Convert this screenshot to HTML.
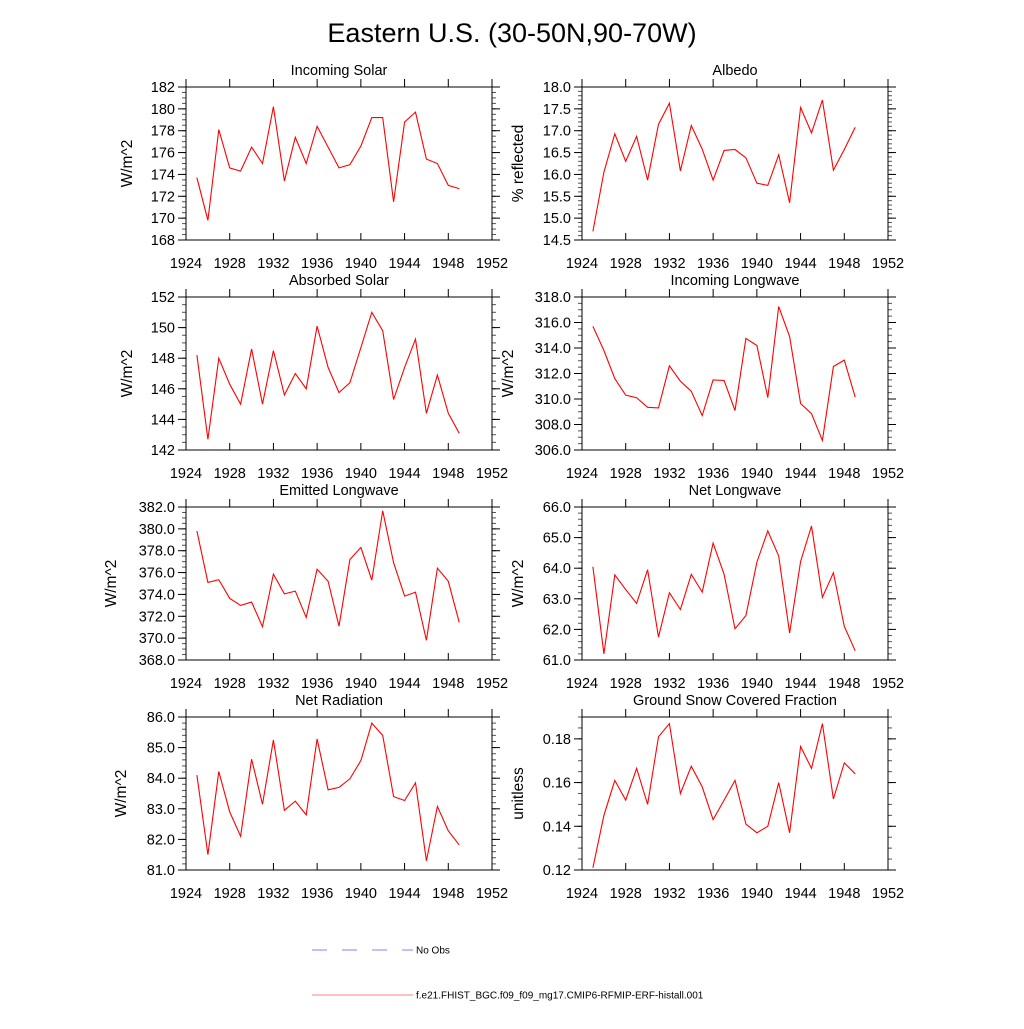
<!DOCTYPE html>
<html><head><meta charset="utf-8"><style>
body{margin:0;background:#fff}
svg text{font-family:"Liberation Sans",sans-serif;fill:#000}
</style></head><body>
<svg id="fig" width="1024" height="1024" viewBox="0 0 1024 1024" xmlns="http://www.w3.org/2000/svg">
<rect width="1024" height="1024" fill="#fff"/>
<text x="512" y="42" font-size="27" text-anchor="middle">Eastern U.S. (30-50N,90-70W)</text>
<g id="panels"></g>
<g>
<line x1="312" y1="950" x2="413" y2="950" stroke="#8080ff" stroke-width="1" stroke-dasharray="15,15"/>
<text x="416" y="953.5" font-size="10">No Obs</text>
<line x1="312" y1="995" x2="413" y2="995" stroke="#ff8080" stroke-width="1"/>
<text x="416" y="998.5" font-size="10">f.e21.FHIST_BGC.f09_f09_mg17.CMIP6-RFMIP-ERF-histall.001</text>
</g>
</svg>
<script>
const years = [1925,1926,1927,1928,1929,1930,1931,1932,1933,1934,1935,1936,1937,1938,1939,1940,1941,1942,1943,1944,1945,1946,1947,1948,1949];
const xTicks = [1924,1928,1932,1936,1940,1944,1948,1952];
const incomingSolar = [173.7,169.8,178.1,174.6,174.3,176.5,175.0,180.2,173.4,177.4,175.0,178.4,176.5,174.6,174.9,176.6,179.2,179.2,171.5,178.8,179.7,175.4,175.0,173.0,172.7];
const albedo = [14.7,16.05,16.93,16.3,16.87,15.87,17.15,17.63,16.08,17.12,16.58,15.87,16.55,16.57,16.38,15.8,15.75,16.45,15.35,17.53,16.95,17.7,16.1,16.57,17.08];
const absorbedSolar = [148.2,142.7,148.0,146.3,145.0,148.6,145.0,148.5,145.6,147.0,146.0,150.1,147.4,145.75,146.4,148.7,151.0,149.8,145.3,147.4,149.25,144.4,146.9,144.4,143.1];
const incomingLW = [315.7,313.8,311.6,310.3,310.1,309.35,309.3,312.6,311.4,310.6,308.7,311.5,311.45,309.1,314.75,314.2,310.1,317.25,314.9,309.65,308.85,306.75,312.55,313.05,310.15];
const emittedLW = [379.8,375.1,375.35,373.65,373.0,373.3,371.05,375.85,374.05,374.3,371.9,376.3,375.2,371.1,377.2,378.3,375.3,381.65,376.9,373.85,374.2,369.8,376.4,375.2,371.45];
const netLW = [64.05,61.2,63.78,63.3,62.85,63.95,61.75,63.2,62.65,63.8,63.22,64.82,63.8,62.02,62.45,64.2,65.22,64.4,61.88,64.22,65.38,63.05,63.85,62.1,61.3];
const netRad = [84.1,81.5,84.22,82.9,82.1,84.62,83.15,85.25,82.95,83.25,82.8,85.28,83.62,83.7,83.98,84.58,85.8,85.4,83.4,83.27,83.85,81.3,83.08,82.28,81.82];
const snowFrac = [0.121,0.145,0.161,0.152,0.1665,0.150,0.181,0.187,0.155,0.1675,0.158,0.143,0.152,0.161,0.141,0.137,0.140,0.160,0.137,0.1765,0.1665,0.187,0.1525,0.169,0.164];
const isTicks = [168,170,172,174,176,178,180,182];
const alTicks = [14.5,15.0,15.5,16.0,16.5,17.0,17.5,18.0];
const asTicks = [142,144,146,148,150,152];
const ilTicks = [306,308,310,312,314,316,318];
const elTicks = [368,370,372,374,376,378,380,382];
const nlTicks = [61,62,63,64,65,66];
const nrTicks = [81,82,83,84,85,86];
const snTicks = [0.12,0.14,0.16,0.18];

const NS="http://www.w3.org/2000/svg";
const root=document.getElementById('panels');
function mk(tag,attrs,parent){const e=document.createElementNS(NS,tag);for(const k in attrs)e.setAttribute(k,attrs[k]);parent.appendChild(e);return e;}

const panels=[
 {name:'incoming-solar',title:'Incoming Solar',ylab:'W/m^2',data:incomingSolar,ticks:isTicks,ymin:168,ymax:182,dec:0,minor:4,col:0,row:0,labx:127},
 {name:'albedo',title:'Albedo',ylab:'% reflected',data:albedo,ticks:alTicks,ymin:14.5,ymax:18.0,dec:1,minor:5,col:1,row:0,labx:518},
 {name:'absorbed-solar',title:'Absorbed Solar',ylab:'W/m^2',data:absorbedSolar,ticks:asTicks,ymin:142,ymax:152,dec:0,minor:4,col:0,row:1,labx:127},
 {name:'incoming-longwave',title:'Incoming Longwave',ylab:'W/m^2',data:incomingLW,ticks:ilTicks,ymin:306,ymax:318,dec:1,minor:4,col:1,row:1,labx:508},
 {name:'emitted-longwave',title:'Emitted Longwave',ylab:'W/m^2',data:emittedLW,ticks:elTicks,ymin:368,ymax:382,dec:1,minor:4,col:0,row:2,labx:111},
 {name:'net-longwave',title:'Net Longwave',ylab:'W/m^2',data:netLW,ticks:nlTicks,ymin:61,ymax:66,dec:1,minor:5,col:1,row:2,labx:518},
 {name:'net-radiation',title:'Net Radiation',ylab:'W/m^2',data:netRad,ticks:nrTicks,ymin:81,ymax:86,dec:1,minor:5,col:0,row:3,labx:121},
 {name:'snow-fraction',title:'Ground Snow Covered Fraction',ylab:'unitless',data:snowFrac,ticks:snTicks,ymin:0.12,ymax:0.19,dec:2,minor:4,col:1,row:3,labx:518}
];
const colX=[[186,492],[582,888]];
const rowY=[[87,240],[297,450],[507,660],[717,870]];

panels.forEach(p=>{
 const [x0,x1]=colX[p.col],[y0,y1]=rowY[p.row];
 const g=mk('g',{},root);
 
 
 const xs=v=>x0+(v-1924)/(1952-1924)*(x1-x0);
 const ys=v=>y1-(v-p.ymin)/(p.ymax-p.ymin)*(y1-y0);
 const step=p.ticks[1]-p.ticks[0];
 for(let v=p.ymin;v<=p.ymax+1e-9;v+=step/p.minor){
  const y=ys(v);
  mk('line',{x1:x0-4,y1:y,x2:x0,y2:y,stroke:'#555','stroke-width':1},g);
  mk('line',{x1:x1,y1:y,x2:x1+4,y2:y,stroke:'#555','stroke-width':1},g);
 }
 p.ticks.forEach(v=>{
  const y=ys(v);
  mk('line',{x1:x0-8,y1:y,x2:x0,y2:y,stroke:'#000','stroke-width':1},g);
  mk('line',{x1:x1,y1:y,x2:x1+8,y2:y,stroke:'#000','stroke-width':1},g);
  const t=mk('text',{x:x0-11,y:y+5,'font-size':14.5,'text-anchor':'end'},g);
  
  
  t.textContent=v.toFixed(p.dec);
 });
 xTicks.forEach(v=>{
  const x=xs(v);
  mk('line',{x1:x,y1:y1-7,x2:x,y2:y1,stroke:'#000','stroke-width':1},g);
  mk('line',{x1:x,y1:y0-8,x2:x,y2:y0,stroke:'#000','stroke-width':1},g);
  const t=mk('text',{x:x,y:y1+28,'font-size':14.5,'text-anchor':'middle'},g);
  
  
  t.textContent=v;
 });
 const r=mk('rect',{x:x0,y:y0,width:x1-x0,height:y1-y0,fill:'none',stroke:'#000','stroke-width':1},g);
 
 
 const pts=p.data.map((v,i)=>xs(years[i]).toFixed(1)+','+ys(v).toFixed(1)).join(' ');
 const pl=mk('polyline',{points:pts,fill:'none',stroke:'#ff0000','stroke-width':1.1},g);
 
 
 const tt=mk('text',{x:(x0+x1)/2,y:y0-12,'font-size':14.5,'text-anchor':'middle'},g);
 
 
 tt.textContent=p.title;
 const yl=mk('text',{x:0,y:0,'font-size':15.5,'text-anchor':'middle',transform:`translate(${p.labx+5},${(y0+y1)/2}) rotate(-90)`},g);
 
 
 yl.textContent=p.ylab;
});
</script>
</body></html>
